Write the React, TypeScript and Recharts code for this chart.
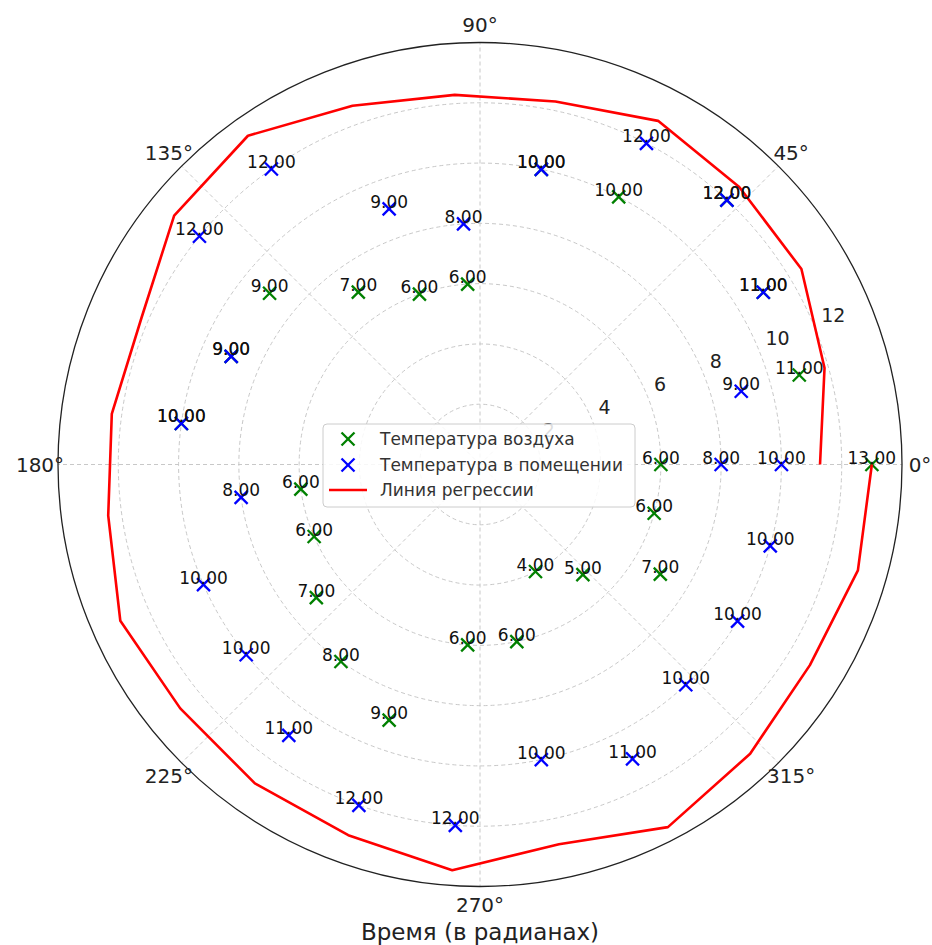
import React from "react";
import {
  RadarChart,
  Radar,
  PolarGrid,
  PolarAngleAxis,
  PolarRadiusAxis,
} from "recharts";

// hour index 0..23 -> angle 0..360 (linspace over the full turn)
const hours = [0, 1, 2, 3, 4, 5, 6, 7, 8, 9, 10, 11, 12, 13, 14, 15, 16, 17, 18, 19, 20, 21, 22, 23];
const airTemp = [13, 11, 11, 12, 10, 10, 6, 6, 7, 9, 9, 10, 6, 6, 7, 8, 9, 6, 6, 4, 5, 7, 6, 6];
const indoorTemp = [8, 9, 11, 12, 12, 10, 8, 9, 12, 12, 9, 10, 8, 10, 10, 11, 12, 12, 10, 11, 10, 10, 10, 10];
const regression = [
  11.28, 11.87, 12.48, 12.6, 12.84, 12.3, 12.29, 12.63, 13.35, 13.08, 12.24, 12.33,
  12.45, 13.01, 12.82, 12.95, 13.05, 13.49, 12.87, 13.55, 13.13, 12.81, 13.02, 13.0,
];
const angleTicksDeg = [0, 45, 90, 135, 180, 225, 270, 315];
const radiusTicks = [2, 4, 6, 8, 10, 12];

const FONT = "'DejaVu Sans', Verdana, sans-serif";
const lastHour = hours[hours.length - 1];

const data = hours.map((h, i) => ({
  hour: h,
  air: airTemp[i],
  indoor: indoorTemp[i],
  reg: regression[i],
}));

function Cross({ x, y, color, s = 6.5 }) {
  return (
    <g stroke={color} strokeWidth={2.3}>
      <line x1={x - s} y1={y - s} x2={x + s} y2={y + s} />
      <line x1={x - s} y1={y + s} x2={x + s} y2={y - s} />
    </g>
  );
}

const markerShape = (color) => (props) => (
  <g>
    {props.points.map((p, i) => (
      <Cross key={i} x={p.x} y={p.y} color={color} />
    ))}
  </g>
);

const labelShape = (props) => (
  <g>
    {props.points.map((p, i) => (
      <text
        key={i}
        x={p.x}
        y={p.y - 1}
        textAnchor="middle"
        fontSize={17}
        fontFamily={FONT}
        fill="#111"
      >
        {Number(p.value).toFixed(2)}
      </text>
    ))}
  </g>
);

// open polyline, not closed like the default radar polygon
const lineShape = (props) => (
  <polyline
    points={props.points.map((p) => `${p.x},${p.y}`).join(" ")}
    fill="none"
    stroke="#ff0000"
    strokeWidth={2.6}
    strokeLinejoin="round"
  />
);

function AngleTick(props) {
  const { x, y, payload } = props;
  return (
    <text
      x={x}
      y={y}
      textAnchor="middle"
      dominantBaseline="central"
      fontSize={20}
      fontFamily={FONT}
      fill="#222"
    >
      {Math.round((payload.value * 360) / lastHour)}°
    </text>
  );
}

function RadiusTick(props) {
  const { x, y, payload } = props;
  return (
    <text x={x + 7} y={y - 4} textAnchor="start" fontSize={19} fontFamily={FONT} fill="#222">
      {payload.value}
    </text>
  );
}

function LegendBox() {
  return (
    <svg
      width={314}
      height={85}
      style={{ position: "absolute", left: 322, top: 423 }}
    >
      <rect x={1} y={1} width={312} height={83} rx={4} fill="rgba(255,255,255,0.85)" stroke="#cccccc" />
      <Cross x={26} y={16} color="#008000" />
      <Cross x={26} y={42} color="#0000ff" />
      <line x1={7} y1={67} x2={45} y2={67} stroke="#ff0000" strokeWidth={2.6} />
      <text x={58} y={22} fontSize={17} fontFamily={FONT} fill="#333">
        Температура воздуха
      </text>
      <text x={58} y={48} fontSize={17} fontFamily={FONT} fill="#333">
        Температура в помещении
      </text>
      <text x={58} y={73} fontSize={17} fontFamily={FONT} fill="#333">
        Линия регрессии
      </text>
    </svg>
  );
}

export default function App() {
  return (
    <div style={{ position: "absolute", left: 0, top: 0, width: 932, height: 945, background: "#fff" }}>
      <RadarChart
        width={932}
        height={945}
        data={data}
        cx={480}
        cy={464.5}
        innerRadius={0}
        outerRadius={422}
        startAngle={0}
        endAngle={360}
        margin={{ top: 0, right: 0, bottom: 0, left: 0 }}
      >
        <PolarGrid gridType="circle" stroke="#c8c8c8" strokeDasharray="4 3" />
        <PolarAngleAxis
          dataKey="hour"
          type="number"
          domain={[0, lastHour]}
          allowDataOverflow
          ticks={angleTicksDeg.map((d) => (d * lastHour) / 360)}
          tick={AngleTick}
          tickLine={false}
          tickSize={18}
          axisLineType="circle"
          axisLine={{ stroke: "#222", strokeWidth: 1.3 }}
        />
        <PolarRadiusAxis
          angle={22.5}
          type="number"
          domain={[0, 14]}
          allowDataOverflow
          ticks={radiusTicks}
          tick={RadiusTick}
          axisLine={false}
          tickLine={false}
        />
        <Radar dataKey="air" shape={markerShape("#008000")} isAnimationActive={false} />
        <Radar dataKey="indoor" shape={markerShape("#0000ff")} isAnimationActive={false} />
        <Radar dataKey="reg" shape={lineShape} isAnimationActive={false} />
        <Radar dataKey="air" shape={labelShape} isAnimationActive={false} />
        <Radar dataKey="indoor" shape={labelShape} isAnimationActive={false} />
      </RadarChart>
      <LegendBox />
      <div
        style={{
          position: "absolute",
          left: 0,
          width: 960,
          top: 920,
          lineHeight: "24px",
          textAlign: "center",
          fontFamily: FONT,
          fontSize: 23,
          color: "#222",
        }}
      >
        Время (в радианах)
      </div>
    </div>
  );
}
